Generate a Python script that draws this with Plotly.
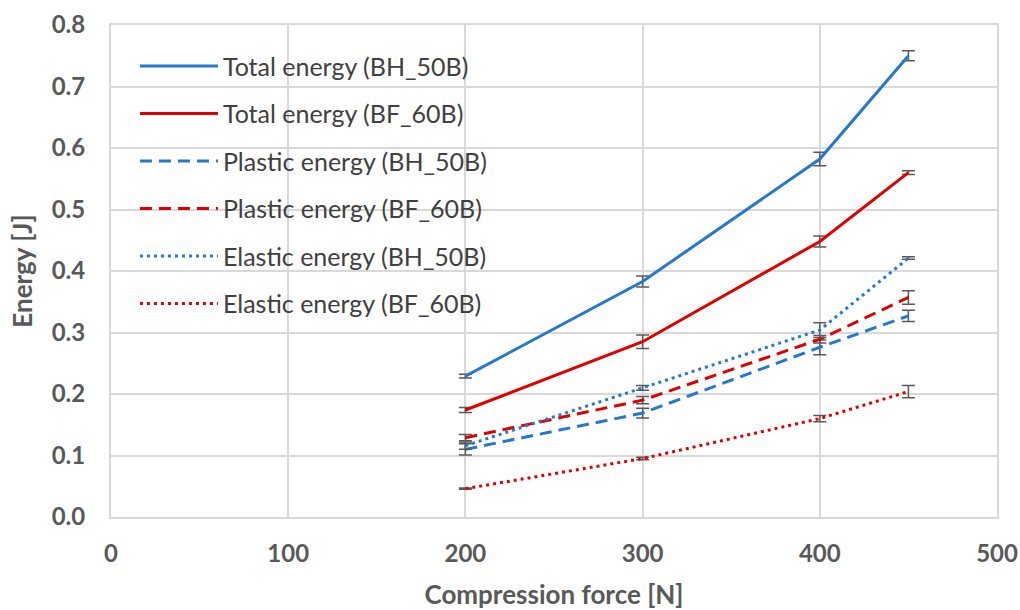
import plotly.graph_objects as go

force = [200, 300, 400, 450]

total_bh = [0.229, 0.383, 0.582, 0.750]
total_bh_err = [0.003, 0.009, 0.011, 0.008]
total_bf = [0.174, 0.285, 0.448, 0.560]
total_bf_err = [0.004, 0.011, 0.009, 0.003]
plastic_bh = [0.110, 0.169, 0.276, 0.327]
plastic_bh_err = [0.009, 0.008, 0.012, 0.009]
plastic_bf = [0.129, 0.190, 0.289, 0.357]
plastic_bf_err = [0.005, 0.006, 0.006, 0.011]
elastic_bh = [0.116, 0.210, 0.304, 0.421]
elastic_bh_err = [0.006, 0.004, 0.012, 0.002]
elastic_bf = [0.046, 0.095, 0.160, 0.204]
elastic_bf_err = [0.001, 0.002, 0.005, 0.010]

names = ["Total energy (BH_50B)", "Total energy (BF_60B)",
         "Plastic energy (BH_50B)", "Plastic energy (BF_60B)",
         "Elastic energy (BH_50B)", "Elastic energy (BF_60B)"]

BLUE = "#2478CE"
RED = "#E00000"
series = [
    (total_bh, total_bh_err, BLUE, "solid"),
    (total_bf, total_bf_err, RED, "solid"),
    (plastic_bh, plastic_bh_err, BLUE, "12px,7px"),
    (plastic_bf, plastic_bf_err, RED, "12px,7px"),
    (elastic_bh, elastic_bh_err, BLUE, "3px,4px"),
    (elastic_bf, elastic_bf_err, RED, "3px,4px"),
]

fig = go.Figure()
for i, ((vals, err, col, dash), nm) in enumerate(zip(series, names)):
    fig.add_trace(go.Scatter(
        x=force, y=vals, name=nm, mode="lines",
        line=dict(color=col, width=3, dash=dash),
        error_y=dict(type="data", array=err, visible=True,
                     color="#595959", thickness=1.5, width=6.5),
        legendgroup=f"g{i}",
    ))

font_fam = "Lato, 'Open Sans', sans-serif"
fig.update_layout(
    width=1020, height=610,
    margin=dict(l=111, r=23, t=25, b=93),
    paper_bgcolor="white", plot_bgcolor="white",
    font=dict(family=font_fam, color="#595959"),
    showlegend=True,
    legend=dict(x=0.027, y=0.963, xanchor="left", yanchor="top",
                font=dict(size=25, color="#404040", family=font_fam),
                tracegroupgap=12, bgcolor="rgba(255,255,255,0)",
                itemwidth=78),
    xaxis=dict(range=[0, 500], tickvals=[0, 100, 200, 300, 400, 500],
               showgrid=True, gridcolor="#D9D9D9", gridwidth=2,
               zeroline=False, showline=True, linecolor="#D9D9D9", linewidth=2,
               mirror=True, ticks="", automargin=False, ticklabelstandoff=14,
               tickfont=dict(size=24, color="#595959", family=font_fam, weight="bold"),
               title=dict(text="Compression force [N]",
                          font=dict(size=26, color="#595959", family=font_fam, weight="bold"),
                          standoff=23)),
    yaxis=dict(range=[0, 0.8], tickvals=[0, 0.1, 0.2, 0.3, 0.4, 0.5, 0.6, 0.7, 0.8],
               tickformat=".1f",
               showgrid=True, gridcolor="#D9D9D9", gridwidth=2,
               zeroline=False, showline=True, linecolor="#D9D9D9", linewidth=2,
               mirror=True, ticks="", ticklabelstandoff=19, automargin=False,
               tickfont=dict(size=24, color="#595959", family=font_fam, weight="bold"),
               title=dict(text="Energy [J]",
                          font=dict(size=26, color="#595959", family=font_fam, weight="bold"),
                          standoff=12)),
)

fig.write_html("out.html", config={"displayModeBar": False},
               post_script="document.body.style.margin='0';document.body.style.overflow='hidden';")
